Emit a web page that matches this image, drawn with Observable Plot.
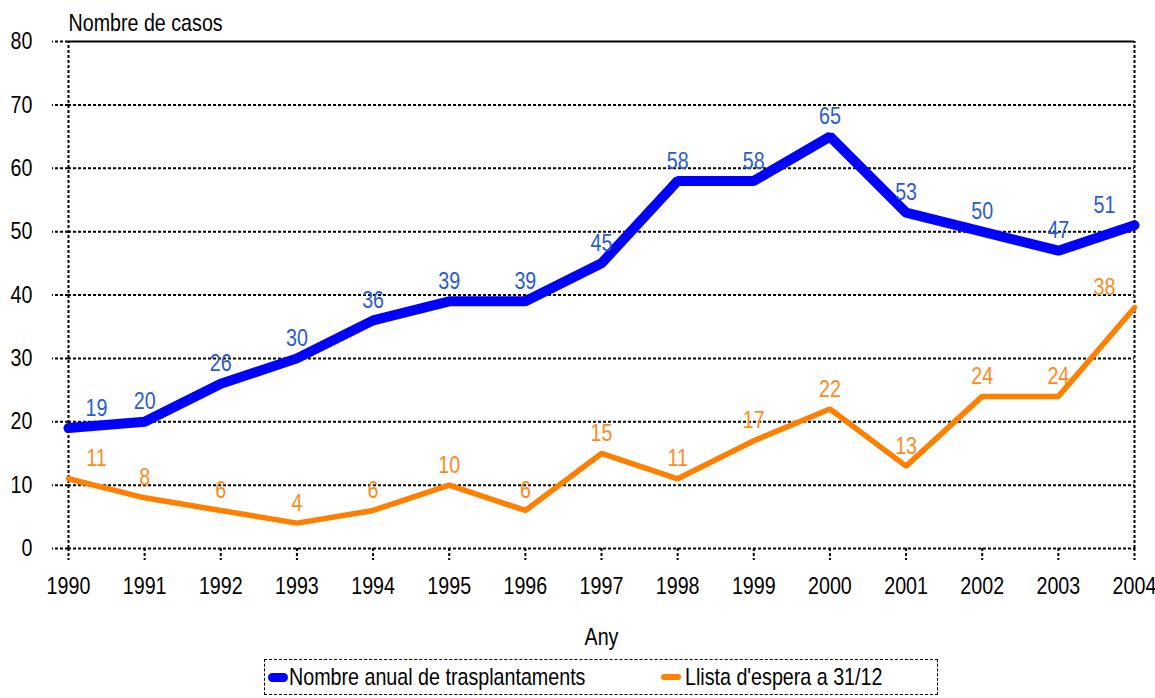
<!DOCTYPE html>
<html>
<head>
<meta charset="utf-8">
<script src="https://cdn.jsdelivr.net/npm/d3@7"></script>
<script src="https://cdn.jsdelivr.net/npm/@observablehq/plot@0.6"></script>
<style>
  html, body { margin: 0; padding: 0; background: #fff; overflow: hidden; }
  #wrap { position: relative; width: 1155px; height: 698px; font-family: "Liberation Sans", Arial, sans-serif; }
  #legend { position: absolute; left: 264px; top: 659px; width: 674px; height: 36px; border: 1.5px dashed #000; box-sizing: border-box; font-size: 24px; color: #000; }
  .item { position: absolute; top: 0; height: 34px; display: flex; align-items: center; }
  .sw { display: inline-block; width: 20px; border-radius: 5px; margin-right: 1px; flex: none; }
  .lt { display: inline-block; transform: scaleX(0.82); transform-origin: left center; white-space: nowrap; }
</style>
</head>
<body>
<div id="wrap"></div>
<script>
const years = [1990,1991,1992,1993,1994,1995,1996,1997,1998,1999,2000,2001,2002,2003,2004];
const trasplantaments = [19,20,26,30,36,39,39,45,58,58,65,53,50,47,51];
const llistaEspera = [11,8,6,4,6,10,6,15,11,17,22,13,24,24,38];
const yTicks = [0,10,20,30,40,50,60,70,80];
const seriesNames = ["Nombre anual de trasplantaments", "Llista d'espera a 31/12"];
const seriesColors = ["#0000ff", "#ff8000"];
const labelColors = ["#2a5bd0", "#ff8a1c"];

const blue = years.map((y, i) => ({year: y, value: trasplantaments[i]}));
const orange = years.map((y, i) => ({year: y, value: llistaEspera[i]}));
const first = years[0], last = years[years.length - 1];
const font = "'Liberation Sans', Arial, sans-serif";
const FS = 24;

function labels(data, color) {
  const base = {x: "year", y: "value", text: d => String(d.value), fill: color, fontSize: FS, dy: -20};
  return [
    Plot.text(data, {...base, filter: d => d.year !== first && d.year !== last}),
    Plot.text(data, {...base, filter: d => d.year === first, dx: 28}),
    Plot.text(data, {...base, filter: d => d.year === last, dx: -30})
  ];
}

const chart = Plot.plot({
  width: 1155,
  height: 650,
  marginLeft: 68,
  marginRight: 21,
  marginTop: 41,
  marginBottom: 102,
  style: {fontFamily: font, fontSize: FS + "px", color: "#000", background: "#fff", overflow: "visible"},
  x: {domain: [first, last]},
  y: {domain: [0, 80]},
  marks: [
    Plot.gridY(yTicks.filter(t => t < 80), {stroke: "#000", strokeOpacity: 1, strokeWidth: 2, strokeDasharray: "3,2"}),
    Plot.ruleY([80], {stroke: "#000", strokeWidth: 2}),
    Plot.ruleX([first, last], {y1: 0, y2: 80, stroke: "#000", strokeWidth: 2, strokeDasharray: "3,2"}),
    Plot.axisY(yTicks, {tickSize: 16, tickPadding: 20, strokeWidth: 2, strokeDasharray: "3,2", label: null, fontSize: FS}),
    Plot.axisX(years, {tickSize: 12, tickPadding: 16, strokeWidth: 2, strokeDasharray: "3,2", tickFormat: d => String(d), label: null, fontSize: FS}),
    Plot.text(["Nombre de casos"], {frameAnchor: "top-left", textAnchor: "start", dy: -28, fontSize: FS, fill: "#000"}),
    Plot.text(["Any"], {frameAnchor: "bottom", dy: 96, fontSize: FS, fill: "#000"}),
    Plot.line(blue, {x: "year", y: "value", stroke: seriesColors[0], strokeWidth: 10, strokeLinecap: "round", strokeLinejoin: "miter"}),
    Plot.line(orange, {x: "year", y: "value", stroke: seriesColors[1], strokeWidth: 5.5, strokeLinecap: "round", strokeLinejoin: "miter"}),
    ...labels(blue, labelColors[0]),
    ...labels(orange, labelColors[1])
  ]
});

// Narrow the glyphs (Arial Narrow look) horizontally around each text's own anchor x.
chart.querySelectorAll("text").forEach(t => {
  let X = parseFloat(t.getAttribute("x"));
  if (!isFinite(X)) X = 0;
  const tr = t.getAttribute("transform") || "";
  t.setAttribute("transform", `${tr} translate(${X},0) scale(0.82,1) translate(${-X},0)`.trim());
});

const wrap = document.getElementById("wrap");
wrap.appendChild(chart);

const legend = document.createElement("div");
legend.id = "legend";
const lefts = [3, 396];
seriesNames.forEach((name, i) => {
  const item = document.createElement("div");
  item.className = "item";
  item.style.left = lefts[i] + "px";
  const sw = document.createElement("span");
  sw.className = "sw";
  sw.style.background = seriesColors[i];
  sw.style.height = i === 0 ? "9px" : "6px";
  const t = document.createElement("span");
  t.className = "lt";
  t.textContent = name;
  if (i === 1) sw.style.marginRight = "4px";
  item.appendChild(sw);
  item.appendChild(t);
  legend.appendChild(item);
});
wrap.appendChild(legend);
</script>
</body>
</html>
